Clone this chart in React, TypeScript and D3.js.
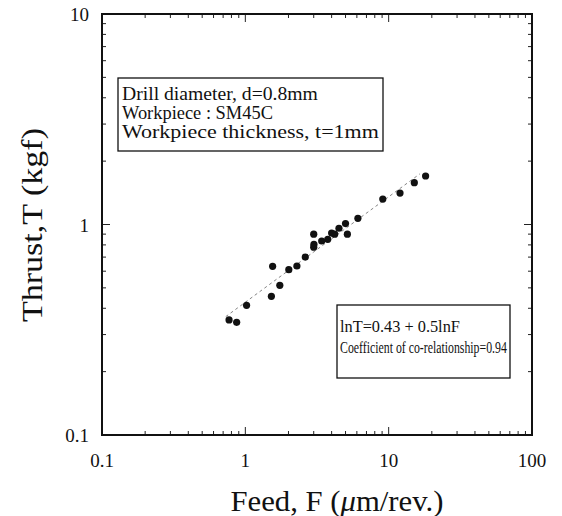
import React, { useLayoutEffect, useRef, useState } from 'react';
import * as d3 from 'd3';

// values (feed in µm/rev, thrust in kgf)
const feed = [18.1, 15.1, 12.0, 9.1, 6.1, 5.0, 5.15, 4.5, 4.2, 4.0, 3.76, 3.41, 3.0, 3.01, 3.0, 2.62, 2.29, 2.01, 1.55, 1.74, 1.52, 1.02, 0.77, 0.87];
const thrust = [1.7, 1.58, 1.41, 1.32, 1.07, 1.01, 0.9, 0.96, 0.9, 0.91, 0.85, 0.835, 0.9, 0.805, 0.78, 0.7, 0.635, 0.61, 0.633, 0.514, 0.456, 0.413, 0.352, 0.343];

// fitted line lnT = 0.43 + 0.5lnF, end points as drawn
const fitFeed = [0.73, 16.5];
const fitThrust = [0.365, 1.74];

const xTickLabels = [0.1, 1, 10, 100];
const yTickLabels = [0.1, 1, 10];

const infoLines = ['Drill diameter, d=0.8mm', 'Workpiece : SM45C', 'Workpiece thickness, t=1mm'];
const infoWidths = [196, 151, 257];
const fitLines = ['lnT=0.43 + 0.5lnF', 'Coefficient of co-relationship=0.94'];
const fitWidths = [120, 167];

const W = 562;
const H = 516;
const margin = { top: 14, right: 30, bottom: 81, left: 102 };
const font = 'Liberation Serif, Tinos, serif';

// text squeezed/stretched horizontally to a given width (the scan's type is not Times proportioned)
function FitText({ x, y, width, size, children }: { x: number; y: number; width: number; size: number; children: string }) {
  const ref = useRef<SVGTextElement>(null);
  const [sx, setSx] = useState(1);
  useLayoutEffect(() => {
    if (ref.current) {
      const w = ref.current.getComputedTextLength();
      if (w > 0) setSx(width / w);
    }
  }, [width, children]);
  return (
    <text ref={ref} transform={`translate(${x},${y}) scale(${sx},1)`} style={{ fontFamily: font, fontSize: size, fill: '#111' }}>
      {children}
    </text>
  );
}

export default function App() {
  const x = d3.scaleLog().domain([0.1, 100]).range([margin.left, W - margin.right]);
  const y = d3.scaleLog().domain([0.1, 10]).range([H - margin.bottom, margin.top]);
  const [x0, x1] = x.range();
  const [y0, y1] = y.range();

  const isMajor = (v: number) => Math.abs(Math.log10(v) - Math.round(Math.log10(v))) < 1e-6;

  const fitPath = d3
    .line<number>()
    .x((d) => x(fitFeed[d]))
    .y((d) => y(fitThrust[d]))([0, 1]);

  const txt = { fontFamily: font, fill: '#111' };

  return (
    <svg width={W} height={H} style={{ position: 'absolute', left: 0, top: 0, background: '#fff' }}>
      {/* ticks on all four sides, pointing in */}
      <g stroke="#222" strokeWidth={1}>
        {x.ticks().map((v, i) => {
          const len = isMajor(v) ? 8 : 4;
          return (
            <g key={'xt' + i}>
              <line x1={x(v)} x2={x(v)} y1={y0} y2={y0 - len} />
              <line x1={x(v)} x2={x(v)} y1={y1} y2={y1 + len} />
            </g>
          );
        })}
        {y.ticks().map((v, i) => {
          const len = isMajor(v) ? 8 : 4;
          return (
            <g key={'yt' + i}>
              <line x1={x0} x2={x0 + len} y1={y(v)} y2={y(v)} />
              <line x1={x1} x2={x1 - len} y1={y(v)} y2={y(v)} />
            </g>
          );
        })}
      </g>
      <rect x={x0} y={y1} width={x1 - x0} height={y0 - y1} fill="none" stroke="#111" strokeWidth={2} />

      <g style={{ ...txt, fontSize: 19 }}>
        {xTickLabels.map((v) => (
          <text key={'xl' + v} x={x(v)} y={y0 + 32} textAnchor="middle">
            {v}
          </text>
        ))}
        {yTickLabels.map((v) => (
          <text key={'yl' + v} x={x0 - 13} y={y(v) + 7} textAnchor="end">
            {v}
          </text>
        ))}
      </g>

      <text x={337} y={511} style={{ ...txt, fontSize: 30 }} textAnchor="middle" textLength={213} lengthAdjust="spacingAndGlyphs">
        Feed, F (<tspan fontStyle="italic">μ</tspan>m/rev.)
      </text>
      <text transform={`translate(42, 225) rotate(-90)`} style={{ ...txt, fontSize: 30 }} textAnchor="middle" textLength={194} lengthAdjust="spacingAndGlyphs">
        Thrust,T (kgf)
      </text>

      {/* fitted line */}
      <path d={fitPath || ''} fill="none" stroke="#777" strokeWidth={0.9} strokeDasharray="3,3" />

      {feed.map((f, i) => (
        <circle key={'p' + i} cx={x(f)} cy={y(thrust[i])} r={3.6} fill="#111" />
      ))}

      {/* info box */}
      <rect x={118} y={78} width={265} height={73} fill="#fff" stroke="#111" strokeWidth={1.3} />
      {infoLines.map((s, i) => (
        <FitText key={'info' + i} x={122} y={99.5 + i * 19} width={infoWidths[i]} size={18}>
          {s}
        </FitText>
      ))}

      {/* fit box */}
      <rect x={337} y={305} width={173} height={73} fill="#fff" stroke="#111" strokeWidth={1.3} />
      {fitLines.map((s, i) => (
        <FitText key={'fit' + i} x={340} y={332 + i * 21} width={fitWidths[i]} size={17.5}>
          {s}
        </FitText>
      ))}
    </svg>
  );
}
